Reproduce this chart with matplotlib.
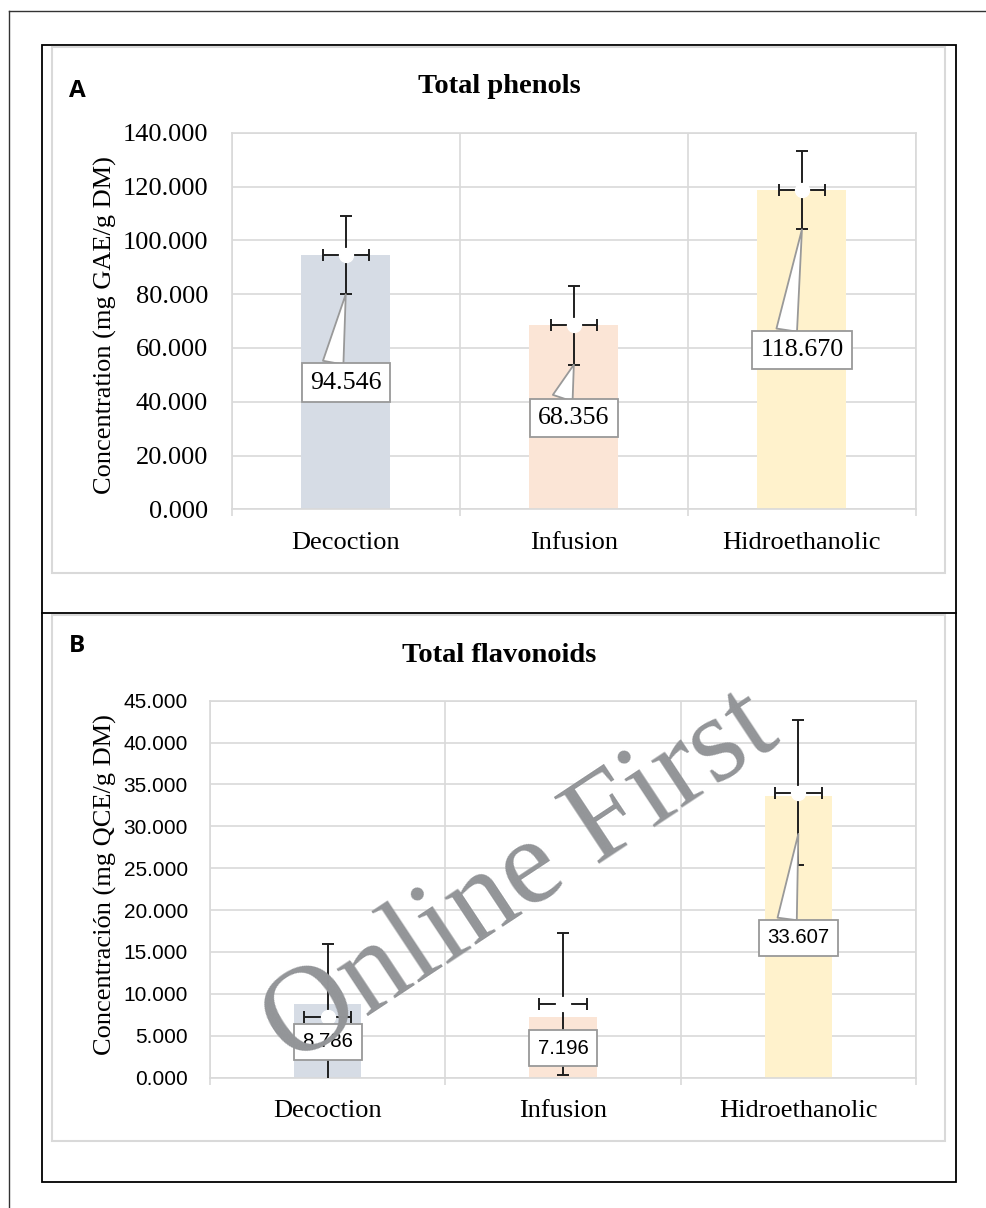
import numpy as np
import matplotlib
matplotlib.use('Agg')
import matplotlib.pyplot as plt
from matplotlib.patches import Rectangle
from matplotlib.lines import Line2D

W, H = 986, 1208

methods = ['Decoction', 'Infusion', 'Hidroethanolic']
bar_colors = ['#D6DCE5', '#FBE5D6', '#FFF2CC']

# Total phenols (mg GAE/g DM)
phenols = [94.546, 68.356, 118.670]
phenols_points = [94.546, 68.356, 118.670]
phenols_sd = [14.6, 14.6, 14.6]
phenols_ticks = [0, 20, 40, 60, 80, 100, 120, 140]

# Total flavonoids (mg QCE/g DM)
flavonoids = [8.786, 7.196, 33.607]
flavonoids_points = [7.196, 8.786, 34.0]
flavonoids_sd = [8.7, 8.5, 8.65]
flavonoids_ticks = [0, 5, 10, 15, 20, 25, 30, 35, 40, 45]

x_err = 0.1

GRID = '#D9D9D9'
BOX_EDGE = '#999999'
SERIF = ['Liberation Serif', 'DejaVu Serif']
SANS = ['Liberation Sans', 'DejaVu Sans']


def setup_plot_style():
    plt.rcParams['font.family'] = SERIF
    plt.rcParams['axes.unicode_minus'] = False


def fx(x):
    return x / W


def fy(y):
    return 1 - y / H


def axes_rect(left, top, right, bottom):
    return [fx(left), fy(bottom), (right - left) / W, (bottom - top) / H]


def add_box(fig, left, top, right, bottom, color, lw):
    fig.add_artist(Rectangle((fx(left), fy(bottom)), (right - left) / W, (bottom - top) / H,
                             transform=fig.transFigure, fill=False, edgecolor=color,
                             linewidth=lw, zorder=0))


def add_line(fig, xs, ys, color, lw):
    fig.add_artist(Line2D([fx(v) for v in xs], [fy(v) for v in ys],
                          transform=fig.transFigure, color=color, linewidth=lw))


def plot_panel(ax, values, points, sd, ticks, bar_width, tick_family, tick_size, ytick_pad,
               label_family, label_size, label_pad, label_y, tip_y, wedge_width):
    x = np.arange(len(methods))
    ax.set_axisbelow(True)
    ax.bar(x, values, width=bar_width, color=bar_colors, zorder=1)
    ax.errorbar(x, points, yerr=sd, xerr=x_err, fmt='o', ms=10, mfc='white', mec='white',
                ecolor='#1f1f1f', elinewidth=1.4, capsize=4, capthick=1.4, zorder=3)

    ax.set_xlim(-0.5, len(methods) - 0.5)
    ax.set_ylim(ticks[0], ticks[-1])
    ax.set_yticks(ticks)
    ax.set_yticklabels([f'{t:.3f}' for t in ticks], family=tick_family, size=tick_size)
    ax.set_xticks(x)
    ax.set_xticklabels(methods, family=SERIF, size=19)
    ax.set_xticks(np.arange(-0.5, len(methods), 1), minor=True)
    ax.tick_params(axis='x', which='major', length=0, pad=16)
    ax.tick_params(axis='x', which='minor', length=5, color=GRID, width=1.2)
    ax.tick_params(axis='y', length=0, pad=ytick_pad)
    ax.grid(axis='y', color=GRID, linewidth=1.2)
    ax.grid(axis='x', which='minor', color=GRID, linewidth=1.2)
    for s in ax.spines.values():
        s.set_color(GRID)
        s.set_linewidth(1.2)

    # value callouts
    for xi, v, ly, ty in zip(x, values, label_y, tip_y):
        arrow = None
        if ty is not None:
            arrow = dict(arrowstyle=f'wedge,tail_width={wedge_width},shrink_factor=0.5',
                         fc='white', ec=BOX_EDGE, lw=1.3, relpos=(0.3, 0.98),
                         shrinkA=0, shrinkB=0)
        ax.annotate(f'{v:.3f}', xy=(xi, ty if ty is not None else ly), xytext=(xi, ly),
                    ha='center', va='center', family=label_family, size=label_size,
                    bbox=dict(boxstyle=f'square,pad={label_pad}', fc='white', ec=BOX_EDGE, lw=1.3),
                    arrowprops=arrow, zorder=4)


def main():
    setup_plot_style()
    fig = plt.figure(figsize=(W / 100, H / 100), dpi=100)

    # page frames
    add_line(fig, [9.3, W], [10.7, 10.7], '#333333', 1.0)
    add_line(fig, [9.3, 9.3], [10.7, H], '#333333', 1.0)
    add_box(fig, 42.3, 45, 955.7, 1181.7, 'black', 1.3)
    add_line(fig, [42.3, 955.7], [612.7, 612.7], 'black', 1.3)
    add_box(fig, 51.7, 46.7, 945, 573, GRID, 1.5)
    add_box(fig, 51.7, 615, 945, 1141, GRID, 1.5)

    # A: total phenols
    ax1 = fig.add_axes(axes_rect(231.7, 132.7, 916, 509.3))
    tips1 = [v - s for v, s in zip(phenols, phenols_sd)]
    plot_panel(ax1, phenols, phenols_points, phenols_sd, phenols_ticks, 0.39,
               SERIF, 19, 17, SERIF, 18.7, 0.32, [47.1, 33.9, 59.2], tips1, 0.8)
    fig.text(fx(105), fy(325), 'Concentration (mg GAE/g DM)', rotation=90,
             ha='center', va='center', size=19)
    fig.text(fx(499), fy(93), 'Total phenols', ha='center', va='baseline',
             size=20.5, weight='bold')
    fig.text(fx(69), fy(97), 'A', ha='left', va='baseline', size=17.5,
             weight='bold', family=['Open Sans', 'DejaVu Sans'])

    # B: total flavonoids
    ax2 = fig.add_axes(axes_rect(210, 700.7, 916, 1077.5))
    plot_panel(ax2, flavonoids, flavonoids_points, flavonoids_sd, flavonoids_ticks, 0.287,
               SANS, 15, 16, SANS, 14.7, 0.42, [4.26, 3.48, 16.7], [None, None, 29.1], 0.95)
    fig.text(fx(105), fy(885), 'Concentración (mg QCE/g DM)', rotation=90,
             ha='center', va='center', size=19)
    fig.text(fx(499), fy(661.7), 'Total flavonoids', ha='center', va='baseline',
             size=20.5, weight='bold')
    fig.text(fx(69), fy(652), 'B', ha='left', va='baseline', size=17.5,
             weight='bold', family=['Open Sans', 'DejaVu Sans'])

    # watermark
    fig.text(fx(292), fy(1066), 'Online First', rotation=33.5, rotation_mode='anchor',
             ha='left', va='baseline', size=88, color='#939598', zorder=10)

    fig.savefig('out.png', dpi=100, facecolor='white')


if __name__ == '__main__':
    main()
